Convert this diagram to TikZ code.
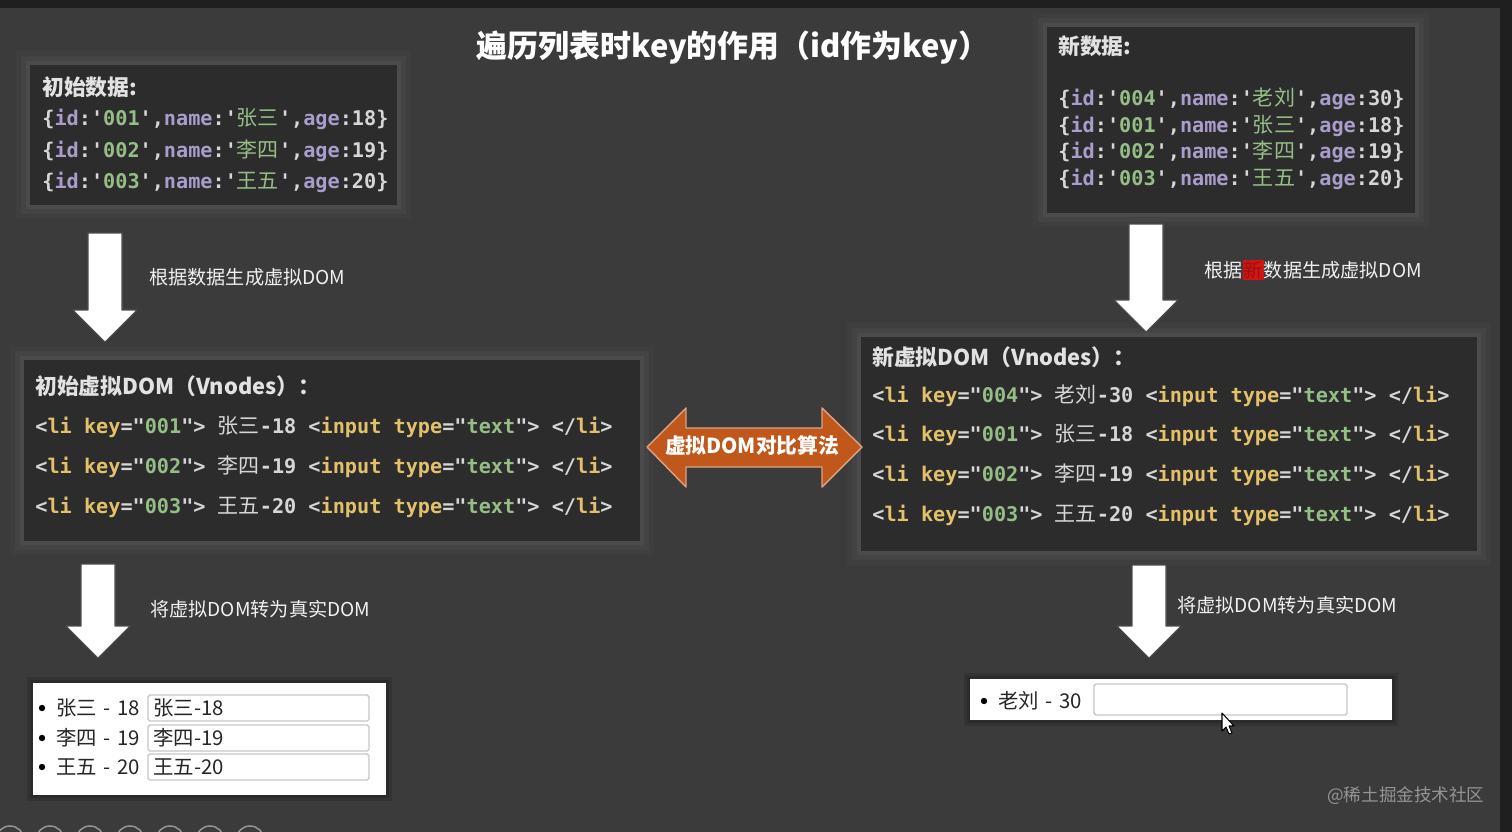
\documentclass[tikz,border=0pt]{standalone}
\usepackage{fontspec}
\setmainfont{Noto Sans CJK SC}
\setmonofont{DejaVu Sans Mono}
\newfontfamily\cjk{Noto Sans CJK SC}[Scale=1.04]
\definecolor{bgc}{HTML}{3B3B3B}
\definecolor{panelc}{HTML}{2C2C2C}
\definecolor{codew}{HTML}{D6D6D6}
\definecolor{codep}{HTML}{AA9CCB}
\definecolor{codeg}{HTML}{94BE86}
\definecolor{codey}{HTML}{E2C16A}
\definecolor{titlec}{HTML}{E2E2E2}
\definecolor{arrowor}{HTML}{C0581C}
\definecolor{hlred}{HTML}{D01515}
\newcommand\ps[1]{\textcolor{codep}{#1}}
\newcommand\gs[1]{\textcolor{codeg}{#1}}
\newcommand\ys[1]{\textcolor{codey}{#1}}
\newcommand\hz[1]{{\cjk\mdseries #1}}
\newcommand\drow[3]{\{\ps{id}:'\gs{#1}',\ps{name}:'\gs{\hz{#2}}',\ps{age}:#3\}}
\newcommand\vrow[3]{<\ys{li key}="\gs{#1}"> \hz{#2}-#3 <\ys{input type}="\gs{text}"> </\ys{li}>}
\newcommand\dash{\hspace{0.33em}-\hspace{0.33em}}
\begin{document}
\begin{tikzpicture}[x=0.02cm,y=-0.02cm,
  panel/.style={fill=panelc,preaction={draw=white,draw opacity=.02,line width=16pt},preaction={draw=white,draw opacity=.03,line width=10pt},preaction={draw=white,draw opacity=.04,line width=5pt}},
  sheet/.style={fill=white,preaction={draw=black,draw opacity=.12,line width=7pt},preaction={draw=black,draw opacity=.15,line width=3pt}},
  code/.style={font=\ttfamily\bfseries\fontsize{11.5pt}{14pt}\selectfont,text=codew,inner sep=0,anchor=west},
  head/.style={font=\bfseries\fontsize{12.4pt}{15pt}\selectfont,text=titlec,inner sep=0,anchor=west},
  note/.style={font=\fontsize{10.9pt}{13pt}\selectfont,text=white!94!black,inner sep=0,anchor=west},
  item/.style={font=\fontsize{11.6pt}{14pt}\selectfont,text=black!85,inner sep=0,anchor=west},
  field/.style={draw=black!22,fill=white,line width=0.8pt,rounded corners=1pt},
  blockarr/.style={fill=white,draw=black!70,line width=0.6pt,line join=round}]
\useasboundingbox (0,0) rectangle (1512,832);
\clip (0,0) rectangle (1512,832);
\fill[bgc] (0,0) rectangle (1512,832);
\fill[black!88] (0,0) rectangle (1512,8);
\fill[black!88] (1500,0) rectangle (1512,832);

% title
\node[font=\bfseries\fontsize{17.6pt}{20pt}\selectfont,text=white,inner sep=0] (title) at (733,48) {遍历列表时key的作用（id作为key）};

% data panels
\fill[panel] (30,65) rectangle (397,205);
\node[head] (dhead) at (42,87) {初始数据:};
\foreach \yy/\id/\nm/\ag [count=\r] in {119/001/张三/18, 151/002/李四/19, 182/003/王五/20}
  \node[code] (d\r) at (42,\yy) {\drow{\id}{\nm}{\ag}};

\fill[panel] (1047,27) rectangle (1415,213);
\node[head] (nhead) at (1058,46) {新数据:};
\foreach \yy/\id/\nm/\ag [count=\r] in {99/004/老刘/30, 126/001/张三/18, 152/002/李四/19, 179/003/王五/20}
  \node[code] (n\r) at (1058,\yy) {\drow{\id}{\nm}{\ag}};

% vnode panels
\fill[panel] (24,360) rectangle (640,541);
\node[head] (vhead) at (35,386) {初始虚拟DOM（Vnodes）：};
\foreach \yy/\id/\nm/\ag [count=\r] in {427/001/张三/18, 467/002/李四/19, 507/003/王五/20}
  \node[code] (v\r) at (35,\yy) {\vrow{\id}{\nm}{\ag}};

\fill[panel] (861,337) rectangle (1477,551);
\node[head] (whead) at (872,357) {新虚拟DOM（Vnodes）：};
\foreach \yy/\id/\nm/\ag [count=\r] in {396/004/老刘/30, 435/001/张三/18, 475/002/李四/19, 515/003/王五/20}
  \node[code] (w\r) at (872,\yy) {\vrow{\id}{\nm}{\ag}};

% block arrows
\foreach \cx/\ya/\yb in {105/233/342, 1146/224/332, 98/564/658, 1149/565/658}
  \draw[blockarr] (\cx-17,\ya) -- (\cx+17,\ya) -- (\cx+17,\yb-32) -- (\cx+32,\yb-32) -- (\cx,\yb)
    -- (\cx-32,\yb-32) -- (\cx-17,\yb-32) -- cycle;
\node[note] (l1) at (149,277) {根据数据生成虚拟DOM};
\node[note] (l2) at (1204,270) {根据{\fboxsep=0.6pt\colorbox{hlred}{\textcolor{hlred!75!black}{新}}}数据生成虚拟DOM};
\node[note] (l3) at (150,609) {将虚拟DOM转为真实DOM};
\node[note] (l4) at (1177,605) {将虚拟DOM转为真实DOM};

% diff arrow
\draw[fill=arrowor,draw=arrowor!55!white,line width=0.8pt,line join=round]
  (647,447) -- (686,408) -- (686,428) -- (822,428) -- (822,408) -- (862,447)
  -- (822,487) -- (822,467) -- (686,467) -- (686,487) -- cycle;
\node[font=\bfseries\fontsize{11.8pt}{14pt}\selectfont,text=white,inner sep=0] (diff) at (752,446) {虚拟DOM对比算法};

% rendered pages
\fill[sheet] (33,683) rectangle (386,795);
\foreach \yy/\nm/\ag [count=\r] in {708/张三/18, 738/李四/19, 767/王五/20} {
  \fill[black] (42,\yy) circle[radius=3.2];
  \node[item] (p\r) at (56,\yy) {\nm\dash\ag};
  \draw[field] (148,\yy-13) rectangle (369,\yy+13);
  \node[item] (f\r) at (153,\yy) {\nm-\ag};
}
\fill[sheet] (970,679) rectangle (1392,720);
\fill[black] (984,701) circle[radius=3.2];
\node[item] (q1) at (998,701) {老刘\dash 30};
\draw[field] (1094,684) rectangle (1347,715);
\draw[fill=white,draw=black,line width=0.6pt,line join=round]
  (1222,713) -- (1222,731) -- (1226,727) -- (1229,734) -- (1232,733) -- (1229,726) -- (1234,726) -- cycle;

% watermark and slide rings
\node[font=\fontsize{10pt}{12pt}\selectfont,text=black!42,inner sep=0,anchor=west] (mark) at (1327,796) {@稀土掘金技术社区};
\foreach \cx in {10,50,...,250}
  \draw[black!40,line width=0.8pt] (\cx,840) circle[radius=14];
\end{tikzpicture}
\end{document}
